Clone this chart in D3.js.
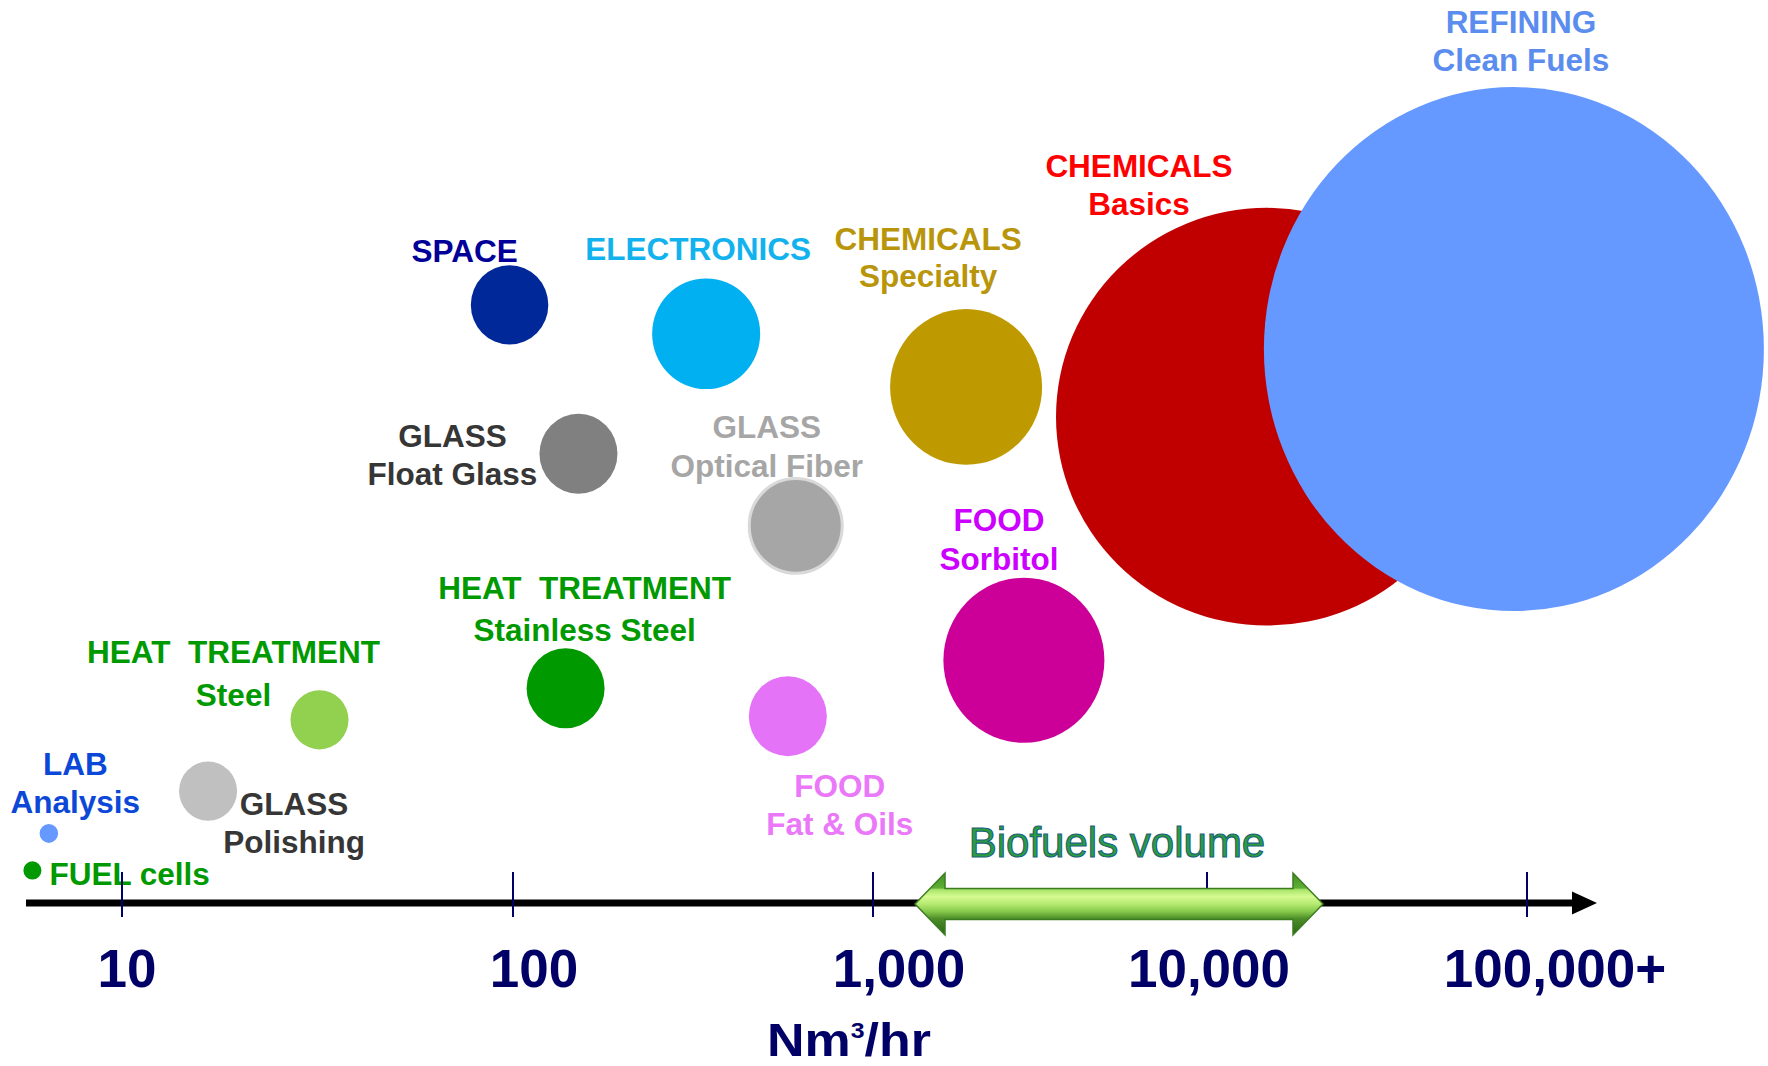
<!DOCTYPE html>
<html>
<head>
<meta charset="utf-8">
<script src="https://cdn.jsdelivr.net/npm/d3@7"></script>
<style>
  html, body { margin: 0; padding: 0; background: #ffffff; }
  svg { display: block; }
  text { font-family: "Liberation Sans", Arial, Helvetica, sans-serif; }
</style>
</head>
<body>
<div id="chart"></div>
<script>
// ---------------- DATA ----------------
const categories = [
  "FUEL cells", "LAB Analysis", "GLASS Polishing", "HEAT TREATMENT Steel",
  "SPACE", "HEAT TREATMENT Stainless Steel", "GLASS Float Glass", "ELECTRONICS",
  "FOOD Fat & Oils", "GLASS Optical Fiber", "CHEMICALS Specialty", "FOOD Sorbitol",
  "CHEMICALS Basics", "REFINING Clean Fuels"
];
// typical hydrogen flow, Nm3/hr (x position, log axis)
const flowValues   = [5.9, 6.5, 16.6, 32, 98, 140, 152, 344, 580, 610, 1900, 2830, 15400, 91000];
// vertical placement (arbitrary 0-100 scale)
const heightValues = [3.5, 7.6, 12.3, 20.2, 66.2, 23.7, 49.7, 63.0, 20.6, 41.7, 57.1, 26.8, 53.8, 61.3];
// relative bubble size (0-100)
const sizeValues   = [3.6, 3.7, 11.6, 11.6, 15.5, 15.6, 15.6, 21.6, 15.6, 18.6, 30.4, 32.2, 84.4, 100];

const labelLine1 = ["FUEL cells", "LAB", "GLASS", "HEAT  TREATMENT", "SPACE", "HEAT  TREATMENT",
  "GLASS", "ELECTRONICS", "FOOD", "GLASS", "CHEMICALS", "FOOD", "CHEMICALS", "REFINING"];
const labelLine2 = ["", "Analysis", "Polishing", "Steel", "", "Stainless Steel",
  "Float Glass", "", "Fat & Oils", "Optical Fiber", "Specialty", "Sorbitol", "Basics", "Clean Fuels"];

const tickValues = [10, 100, 1000, 10000, 100000];
const tickLabels = ["10", "100", "1,000", "10,000", "100,000+"];
const biofuelsRange = [1336, 23040];
const biofuelsLabel = "Biofuels volume";

// ---------------- STYLE / LAYOUT ----------------
const W = 1768, H = 1066;
const bubbleColors = ["#009900", "#6699ff", "#c0c0c0", "#92d050", "#002899", "#009900", "#808080",
  "#00b0f0", "#e473f8", "#a6a6a6", "#bf9900", "#cc0099", "#c00000", "#6699ff"];
const textColors = ["#009900", "#0b48d8", "#363636", "#009900", "#000099", "#009900", "#363636",
  "#12b2ef", "#ea78f8", "#a6a6a6", "#b8950a", "#cc00ff", "#ff0000", "#5b8def"];
// drawn height/width ratio of each bubble (shapes in the original are slightly stretched)
const bubbleAspect = [1.02, 1.02, 1.02, 1.02, 1.025, 1.025, 1.025, 1.025, 1.025, 1.02, 1.025, 1.025, 0.99, 1.048];
// label placement relative to bubble centre: [dx, dy of first baseline, line gap, anchor]
const labelLayout = [
  [17, 15, 0, "start"], [26.5, -58.5, 38, "middle"], [86, 24, 38, "middle"], [-86, -57, 43, "middle"],
  [-45, -43, 0, "middle"], [19, -89, 42, "middle"], [-126, -7, 38, "middle"], [-8, -74, 0, "middle"],
  [52, 81, 38, "middle"], [-29, -88, 39, "middle"], [-38, -137, 37, "middle"], [-25, -129, 39, "middle"],
  [-128, -240, 38, "middle"], [7, -316, 38, "middle"]
];
const tickLabelDx = [5, 21, 26, 2, 28];
const axisY = 903;

// ---------------- SCALES ----------------
const x = d3.scaleLog()
  .domain(tickValues)
  .range([122, 513, 873, 1207, 1527]);
const y = d3.scaleLinear().domain([0, 100]).range([902, 0]);
const r = d3.scaleLinear().domain([0, 100]).range([0, 250]);

const svg = d3.select("#chart").append("svg")
  .attr("width", W).attr("height", H)
  .attr("viewBox", `0 0 ${W} ${H}`);
svg.append("rect").attr("width", W).attr("height", H).attr("fill", "#ffffff");

const data = categories.map((c, i) => ({
  name: c, flow: flowValues[i], h: heightValues[i], size: sizeValues[i], aspect: bubbleAspect[i],
  l1: labelLine1[i], l2: labelLine2[i], fill: bubbleColors[i], tc: textColors[i], lay: labelLayout[i]
}));

// ---------------- BUBBLES ----------------
const isOptical = d => d.name === "GLASS Optical Fiber";
svg.append("g").selectAll("ellipse")
  .data(data)
  .join("ellipse")
  .attr("cx", d => x(d.flow))
  .attr("cy", d => y(d.h))
  .attr("rx", d => r(d.size))
  .attr("ry", d => r(d.size) * d.aspect)
  .attr("fill", d => d.fill)
  .attr("stroke", d => isOptical(d) ? "#d9d9d9" : "none")
  .attr("stroke-width", d => isOptical(d) ? 3 : 0);

// ---------------- LABELS ----------------
const lbl = svg.append("g").selectAll("text")
  .data(data)
  .join("text")
  .attr("font-size", 31.5)
  .attr("font-weight", "bold")
  .attr("fill", d => d.tc)
  .attr("text-anchor", d => d.lay[3])
  .style("white-space", "pre");
lbl.append("tspan")
  .attr("x", d => x(d.flow) + d.lay[0])
  .attr("y", d => y(d.h) + d.lay[1])
  .text(d => d.l1);
lbl.filter(d => d.l2 !== "").append("tspan")
  .attr("x", d => x(d.flow) + d.lay[0])
  .attr("y", d => y(d.h) + d.lay[1] + d.lay[2])
  .text(d => d.l2);

// ---------------- AXIS ----------------
const axisG = svg.append("g");
axisG.append("line")
  .attr("x1", 26).attr("x2", 1576)
  .attr("y1", axisY).attr("y2", axisY)
  .attr("stroke", "#000000").attr("stroke-width", 7);
axisG.append("path")
  .attr("d", `M1572,${axisY - 11.5} L1597,${axisY} L1572,${axisY + 11.5} Z`)
  .attr("fill", "#000000");

axisG.selectAll("line.tick")
  .data(tickValues)
  .join("line")
  .attr("class", "tick")
  .attr("x1", d => x(d)).attr("x2", d => x(d))
  .attr("y1", axisY - 31).attr("y2", axisY + 14)
  .attr("stroke", "#000066").attr("stroke-width", 2);

axisG.selectAll("text.ticklabel")
  .data(tickValues)
  .join("text")
  .attr("class", "ticklabel")
  .attr("x", (d, i) => x(d) + tickLabelDx[i])
  .attr("y", 987)
  .attr("text-anchor", "middle")
  .attr("font-size", 53)
  .attr("font-weight", "bold")
  .attr("fill", "#000066")
  .text((d, i) => tickLabels[i]);

const title = svg.append("text")
  .attr("transform", "translate(849,1056) scale(1.13,1)")
  .attr("x", 0).attr("y", 0)
  .attr("text-anchor", "middle")
  .attr("font-size", 46)
  .attr("font-weight", "bold")
  .attr("fill", "#000066");
title.append("tspan").text("Nm");
title.append("tspan").attr("font-size", 22).attr("dy", -18).text("3");
title.append("tspan").attr("dy", 18).text("/hr");

// ---------------- BIOFUELS ARROW ----------------
const defs = svg.append("defs");
const grad = defs.append("linearGradient")
  .attr("id", "bioGrad").attr("x1", 0).attr("y1", 0).attr("x2", 0).attr("y2", 1);
[[0, "#3f8f22"], [0.24, "#5fae35"], [0.27, "#a9e46a"], [0.38, "#d6fb92"], [0.5, "#b5ea70"],
 [0.62, "#86c94a"], [0.74, "#4c8c28"], [1, "#2b6616"]]
  .forEach(([o, c]) => grad.append("stop").attr("offset", o).attr("stop-color", c));

const bx0 = x(biofuelsRange[0]), bx1 = x(biofuelsRange[1]);
const by = axisY + 1, head = 30, hh = 31, sh = 15.5;
svg.append("path")
  .attr("d", `M${bx0},${by} L${bx0 + head},${by - hh} L${bx0 + head},${by - sh} L${bx1 - head},${by - sh}
    L${bx1 - head},${by - hh} L${bx1},${by} L${bx1 - head},${by + hh} L${bx1 - head},${by + sh}
    L${bx0 + head},${by + sh} L${bx0 + head},${by + hh} Z`)
  .attr("fill", "url(#bioGrad)")
  .attr("stroke", "#3d7d22")
  .attr("stroke-width", 1.5)
  .attr("stroke-linejoin", "miter");

svg.append("text")
  .attr("x", (bx0 + bx1) / 2 - 2)
  .attr("y", 857)
  .attr("text-anchor", "middle")
  .attr("font-size", 42)
  .attr("fill", "#2a9e3c")
  .attr("stroke", "#1c5f7e")
  .attr("stroke-width", 1.1)
  .text(biofuelsLabel);
</script>
</body>
</html>
